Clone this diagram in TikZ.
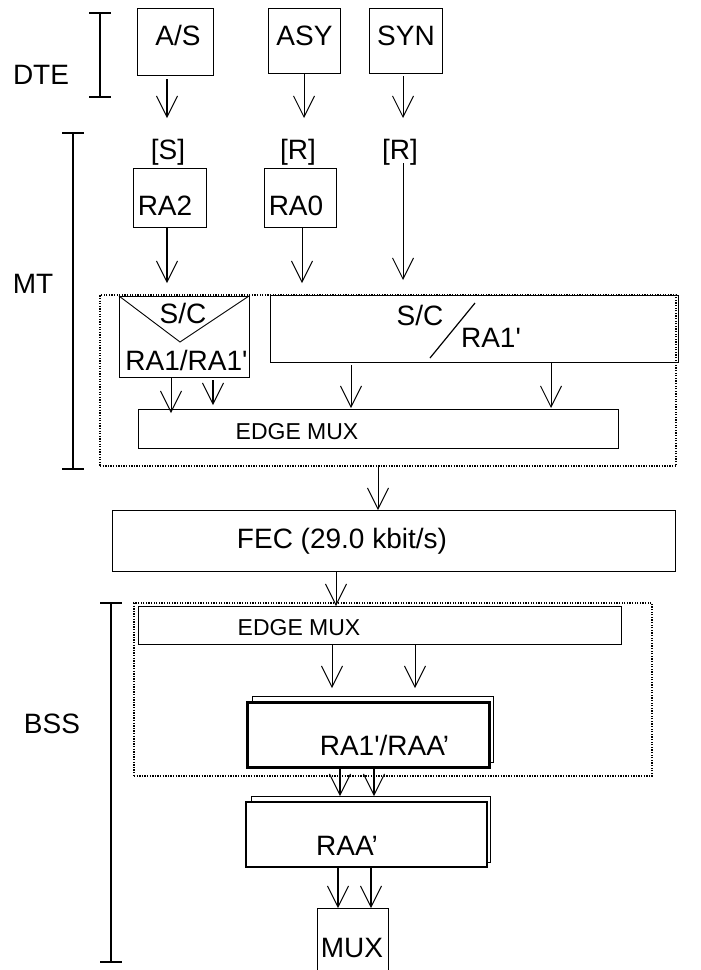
\documentclass[tikz,border=0pt]{standalone}
\usepackage{fontspec}
\setmainfont{Liberation Sans}
\usetikzlibrary{arrows.meta}
\begin{document}
\begin{tikzpicture}[x=1pt,y=-1pt,
  box/.style={draw, line width=0.9pt, inner sep=0pt, outer sep=0pt},
  frontbox/.style={box, fill=white},
  dotbox/.style={draw, line width=1.3pt, dash pattern=on 1.3pt off 1.3pt, inner sep=0pt, outer sep=0pt},
  lbl/.style={inner sep=0pt, anchor=base, font=\fontsize{28}{30}\selectfont},
  slbl/.style={inner sep=0pt, anchor=base, font=\fontsize{23}{25}\selectfont},
  arr/.style={line width=1pt, -{Straight Barb[length=21pt,width=21pt,line width=1pt]}},
  tarr/.style={arr, line width=2pt},
  brk/.style={line width=1.3pt}]
\useasboundingbox (0,0) rectangle (701,970);

% ---------- brackets ----------
\coordinate (dteT) at (100,13);  \coordinate (dteB) at (100,97);
\coordinate (mtT) at (73,133);   \coordinate (mtB) at (73,469);
\coordinate (bssT) at (111,603); \coordinate (bssB) at (111,962);
\draw[brk] (dteT) -- (dteB);
\draw[brk] ([xshift=-11pt]dteT) -- ([xshift=11pt]dteT);
\draw[brk] ([xshift=-11pt]dteB) -- ([xshift=11pt]dteB);
\draw[brk] (mtT) -- (mtB);
\draw[brk] ([xshift=-11pt]mtT) -- ([xshift=11pt]mtT);
\draw[brk] ([xshift=-11pt]mtB) -- ([xshift=11pt]mtB);
\draw[brk] (bssT) -- (bssB);
\draw[brk] ([xshift=-11pt]bssT) -- ([xshift=11pt]bssT);
\draw[brk] ([xshift=-11pt]bssB) -- ([xshift=11pt]bssB);
\node[lbl] (tDTE) at (41,84) {DTE};
\node[lbl] (tMT) at (33,293) {MT};
\node[lbl] (tBSS) at (52,733) {BSS};

% ---------- DTE boxes ----------
\node[box, minimum width=76pt, minimum height=67pt] (AS) at (175,41.5) {};
\node[box, minimum width=72pt, minimum height=65pt] (ASY) at (304,40.5) {};
\node[box, minimum width=73pt, minimum height=65pt] (SYN) at (405.5,40.5) {};
\node[lbl] (tAS) at (178,45) {A/S};
\node[lbl] (tASY) at (304.5,45) {ASY};
\node[lbl] (tSYN) at (406,45) {SYN};

% ---------- MT upper ----------
\node[lbl] (S) at (168,159) {[S]};
\node[lbl] (R1) at (298,159) {[R]};
\node[lbl] (R2) at (400,159) {[R]};
\node[box, minimum width=73pt, minimum height=59pt] (RA2) at (169.5,197.5) {};
\node[box, minimum width=72pt, minimum height=59pt] (RA0) at (300,197.5) {};
\node[lbl] (tRA2) at (165,215) {RA2};
\node[lbl] (tRA0) at (296,215) {RA0};

% ---------- MT dotted group ----------
\node[dotbox, minimum width=576pt, minimum height=171pt] (MTbox) at (388,380.5) {};
\node[box, minimum width=130pt, minimum height=81pt] (SC1) at (184,336.5) {};
\draw[line width=0.9pt] (SC1.north west) -- (180,342) -- (SC1.north east);
\node[lbl] (tSC1) at (183,323) {S/C};
\node[lbl] (tRA11) at (186.5,370) {RA1/RA1\textquotesingle};
\node[box, minimum width=408pt, minimum height=67pt] (SC2) at (474,328.5) {};
\node[lbl] (tSC2) at (420,325) {S/C};
\coordinate (slA) at (430,358); \coordinate (slB) at (475,303);
\draw[line width=1.2pt] (slA) -- (slB);
\node[lbl] (tRA1p) at (491,347) {RA1\textquotesingle};
\node[box, minimum width=480pt, minimum height=39pt] (EM1) at (378,428.5) {};
\node[slbl] (tEM1) at (297,439) {EDGE MUX};

% ---------- FEC ----------
\node[box, minimum width=563pt, minimum height=61pt] (FEC) at (393.5,540.5) {};
\node[lbl] (tFEC) at (342,548) {FEC (29.0 kbit/s)};

% ---------- BSS dotted group ----------
\node[dotbox, minimum width=518pt, minimum height=173pt] (BSSbox) at (393,689.5) {};
\node[box, minimum width=483pt, minimum height=38pt] (EM2) at (379.5,625) {};
\node[slbl] (tEM2) at (299,635) {EDGE MUX};
\node[box, minimum width=241pt, minimum height=66pt] (RAb) at (372.5,729) {};
\node[frontbox, line width=3pt, minimum width=242pt, minimum height=65pt] (RAf) at (368,734.5) {};
\node[lbl] (tRAf) at (384.5,755) {RA1\textquotesingle/RAA’};

% ---------- RAA' and MUX ----------
\node[box, minimum width=239pt, minimum height=66pt] (RAAb) at (370.5,829) {};
\node[frontbox, line width=1.4pt, minimum width=241pt, minimum height=65pt] (RAAf) at (366.5,834.5) {};
\node[lbl] (tRAA) at (347,855) {RAA’};
\node[box, minimum width=71pt, minimum height=80pt] (MUX) at (352.5,948) {};
\node[lbl] (tMUX) at (352,957) {MUX};

% ---------- arrow columns ----------
\coordinate (t1) at (167,118);
\coordinate (t2) at (304,118);
\coordinate (t3) at (403,118);
\coordinate (t4) at (167,283);
\coordinate (t5) at (302,283);
\coordinate (t6) at (403,280);
\coordinate (c171) at (171,0);
\coordinate (c213) at (213,0);
\coordinate (c351) at (351,0);
\coordinate (c551) at (551,0);
\coordinate (c378) at (378,0);
\coordinate (c336) at (336,0);
\coordinate (c332) at (332,0);
\coordinate (c415) at (415,0);
\coordinate (c340) at (340,0);
\coordinate (c374) at (374,0);
\coordinate (c338) at (338,0);
\coordinate (c371) at (371,0);

\draw[tarr] ([yshift=-4pt]AS.south -| t1) -- (t1);
\draw[arr] (ASY.south -| t2) -- (t2);
\draw[arr] ([yshift=-3pt]SYN.south -| t3) -- (t3);
\draw[tarr] ([yshift=-1pt]RA2.south -| t4) -- (t4);
\draw[arr] ([yshift=-1pt]RA0.south -| t5) -- (t5);
\draw[arr] ([yshift=2pt]R2.south -| t6) -- (t6);

\draw[arr] (SC1.south -| c171) -- ([yshift=-4pt]EM1.north -| c171);
\draw[tarr] ([yshift=-3pt]SC1.south -| c213) -- ([yshift=4pt]EM1.north -| c213);
\draw[arr] ([yshift=-3pt]SC2.south -| c351) -- ([yshift=1pt]EM1.north -| c351);
\draw[arr] (SC2.south -| c551) -- ([yshift=1pt]EM1.north -| c551);

\draw[arr] (MTbox.south -| c378) -- (FEC.north -| c378);
\draw[arr] (FEC.south -| c336) -- (EM2.north -| c336);

\draw[arr] (EM2.south -| c332) -- ([yshift=8pt]RAb.north -| c332);
\draw[arr] (EM2.south -| c415) -- ([yshift=8pt]RAb.north -| c415);
\draw[tarr] (RAf.south -| c340) -- (RAAb.north -| c340);
\draw[tarr] (RAf.south -| c374) -- (RAAb.north -| c374);
\draw[tarr] (RAAf.south -| c338) -- (MUX.north -| c338);
\draw[tarr] (RAAf.south -| c371) -- (MUX.north -| c371);
\end{tikzpicture}
\end{document}
